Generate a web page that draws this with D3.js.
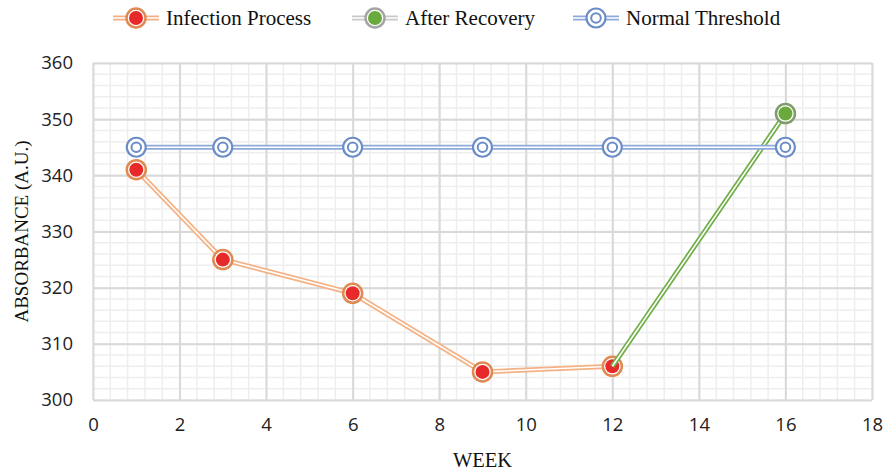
<!DOCTYPE html>
<html>
<head>
<meta charset="utf-8">
<script src="https://cdn.jsdelivr.net/npm/d3@7"></script>
<style>
  body { margin: 0; background: #fff; }
  .tick text { font-family: "Open Sans", "Liberation Sans", sans-serif; font-size: 18.5px; fill: #222; }
  .axis-title { font-family: "Liberation Serif", serif; font-size: 19px; fill: #111; }
  .legend-text { font-family: "Liberation Serif", serif; font-size: 21px; fill: #111; }
</style>
</head>
<body>
<svg id="chart"></svg>
<script>
// data
const infectionWeeks = [1, 3, 6, 9, 12];
const infectionValues = [341, 325, 319, 305, 306];
const recoveryWeeks = [12, 16];
const recoveryValues = [306, 351];
const thresholdWeeks = [1, 3, 6, 9, 12, 16];
const thresholdValues = [345, 345, 345, 345, 345, 345];
const xTicks = [0, 2, 4, 6, 8, 10, 12, 14, 16, 18];
const yTicks = [300, 310, 320, 330, 340, 350, 360];
const seriesNames = ["Infection Process", "After Recovery", "Normal Threshold"];

var wtot = 888, htot = 470;
var margin = { top: 63, right: 16, bottom: 70, left: 93 };

const svg = d3.select("#chart")
    .attr("width", wtot)
    .attr("height", htot);

const xScale = d3.scaleLinear([0, 18], [margin.left, wtot - margin.right]);
const yScale = d3.scaleLinear([300, 360], [htot - margin.bottom, margin.top]);

// minor grid
const xMinor = d3.range(0, 18.001, 0.4);
const yMinor = d3.range(300, 360.001, 2);
svg.append("g")
    .selectAll("line")
    .data(xMinor)
    .join("line")
    .attr("x1", d => xScale(d)).attr("x2", d => xScale(d))
    .attr("y1", yScale(300)).attr("y2", yScale(360))
    .attr("stroke", "#eeeeee").attr("stroke-width", 1.5);
svg.append("g")
    .selectAll("line")
    .data(yMinor)
    .join("line")
    .attr("y1", d => yScale(d)).attr("y2", d => yScale(d))
    .attr("x1", xScale(0)).attr("x2", xScale(18))
    .attr("stroke", "#eeeeee").attr("stroke-width", 1.5);

// major grid + axes
const xAxis = d3.axisBottom(xScale).tickValues(xTicks).tickSize(0).tickPadding(18);
const yAxis = d3.axisLeft(yScale).tickValues(yTicks).tickSize(0).tickPadding(20);

svg.append("g")
    .attr("transform", `translate(0,${yScale(300)})`)
    .call(xAxis)
    .call(g => g.select(".domain").remove())
    .call(g => g.selectAll(".tick line").clone()
        .attr("y2", yScale(360) - yScale(300))
        .attr("stroke", "#d9d9d9").attr("stroke-width", 2));

svg.append("g")
    .attr("transform", `translate(${xScale(0)},0)`)
    .call(yAxis)
    .call(g => g.select(".domain").remove())
    .call(g => g.selectAll(".tick line").clone()
        .attr("x2", xScale(18) - xScale(0))
        .attr("stroke", "#d9d9d9").attr("stroke-width", 2));

// axis titles
svg.append("text")
    .attr("class", "axis-title")
    .attr("x", (xScale(0) + xScale(18)) / 2)
    .attr("y", 467)
    .attr("text-anchor", "middle")
    .style("font-size", "20.5px")
    .text("WEEK");
svg.append("text")
    .attr("class", "axis-title")
    .attr("transform", `translate(28,${(yScale(300) + yScale(360)) / 2}) rotate(-90)`)
    .attr("text-anchor", "middle")
    .text("ABSORBANCE (A.U.)");

const line = d3.line()
    .x(d => xScale(d[0]))
    .y(d => yScale(d[1]));

// double line: colored wide stroke, white core
function doubleLine(pts, color) {
    svg.append("path").datum(pts).attr("d", line)
        .attr("fill", "none").attr("stroke", color).attr("stroke-width", 5);
    svg.append("path").datum(pts).attr("d", line)
        .attr("fill", "none").attr("stroke", "#fff").attr("stroke-width", 1.6);
}

function fillMarker(g, ring, fill) {
    g.append("circle").attr("r", 9.5).attr("fill", "#fff").attr("stroke", ring).attr("stroke-width", 2.5);
    g.append("circle").attr("r", 7).attr("fill", fill);
}

function ringMarker(g, ring) {
    g.append("circle").attr("r", 9.5).attr("fill", "#fff").attr("stroke", ring).attr("stroke-width", 2.2);
    g.append("circle").attr("r", 4.8).attr("fill", "#fff").attr("stroke", ring).attr("stroke-width", 2);
}

const infPts = d3.zip(infectionWeeks, infectionValues);
const recPts = d3.zip(recoveryWeeks, recoveryValues);
const thrPts = d3.zip(thresholdWeeks, thresholdValues);

// infection process
doubleLine(infPts, "#f4b183");
infPts.forEach(p => fillMarker(svg.append("g").attr("transform", `translate(${xScale(p[0])},${yScale(p[1])})`), "#df8a52", "#e8292a"));

// after recovery (marker only at the end point)
doubleLine(recPts, "#70ad47");
recPts.slice(1).forEach(p => fillMarker(svg.append("g").attr("transform", `translate(${xScale(p[0])},${yScale(p[1])})`), "#7f9c6c", "#6aaa3c"));

// normal threshold
doubleLine(thrPts, "#8eaadb");
thrPts.forEach(p => ringMarker(svg.append("g").attr("transform", `translate(${xScale(p[0])},${yScale(p[1])})`), "#6a8cc7"));

// legend
const legendY = 18;
const legendItems = [
    { x: 113, line: "#f4b183", ring: "#df8a52", fill: "#e8292a", type: "fill" },
    { x: 352, line: "#c9c9c9", ring: "#a5a5a5", fill: "#6aaa3c", type: "fill" },
    { x: 573, line: "#8eaadb", ring: "#6a8cc7", fill: null, type: "ring" }
];
legendItems.forEach((d, i) => {
    const pts = [[d.x, legendY], [d.x + 46, legendY]];
    const l = d3.line();
    svg.append("path").attr("d", l(pts)).attr("stroke", d.line).attr("stroke-width", 5);
    svg.append("path").attr("d", l(pts)).attr("stroke", "#fff").attr("stroke-width", 1.6);
    const g = svg.append("g").attr("transform", `translate(${d.x + 23},${legendY})`);
    if (d.type === "fill") fillMarker(g, d.ring, d.fill);
    else ringMarker(g, d.ring);
    svg.append("text")
        .attr("class", "legend-text")
        .attr("x", d.x + 53)
        .attr("y", legendY + 7)
        .text(seriesNames[i]);
});
</script>
</body>
</html>
